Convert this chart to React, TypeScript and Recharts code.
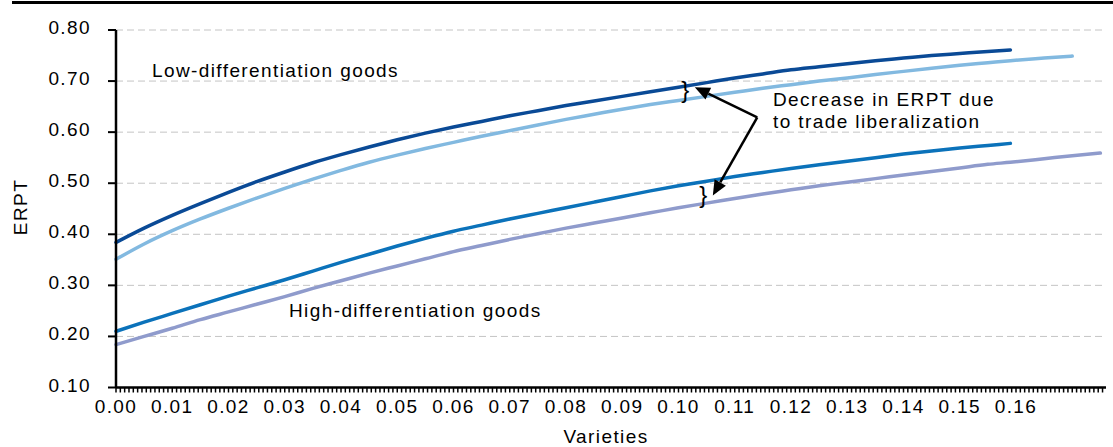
import React from 'react';
import {
  LineChart,
  Line,
  XAxis,
  YAxis,
  CartesianGrid,
  ReferenceLine,
  ReferenceDot,
} from 'recharts';

const xs = [
  0, 0.005, 0.01, 0.015, 0.02, 0.025, 0.03, 0.035, 0.04, 0.045, 0.05, 0.055,
  0.06, 0.065, 0.07, 0.075, 0.08, 0.085, 0.09, 0.095, 0.1, 0.105, 0.11, 0.115,
  0.12, 0.125, 0.13, 0.135, 0.14, 0.145, 0.15, 0.155, 0.159, 0.165, 0.17, 0.175,
];

const lowPre = [
  0.384, 0.412, 0.437, 0.46, 0.482, 0.503, 0.522, 0.54, 0.556, 0.571, 0.585, 0.598,
  0.61, 0.621, 0.632, 0.642, 0.652, 0.661, 0.67, 0.679, 0.688, 0.697, 0.706, 0.714,
  0.722, 0.728, 0.734, 0.74, 0.745, 0.75, 0.754, 0.758, 0.761, null, null, null,
];
const lowPost = [
  0.351, 0.381, 0.407, 0.43, 0.451, 0.471, 0.49, 0.508, 0.525, 0.541, 0.555, 0.568,
  0.58, 0.592, 0.603, 0.614, 0.625, 0.635, 0.645, 0.654, 0.662, 0.67, 0.678, 0.686,
  0.693, 0.7, 0.706, 0.713, 0.719, 0.725, 0.731, 0.736, 0.74, 0.745, 0.749, null,
];
const highPre = [
  0.21, 0.228, 0.245, 0.262, 0.279, 0.295, 0.311, 0.328, 0.345, 0.361, 0.377, 0.392,
  0.406, 0.418, 0.43, 0.441, 0.452, 0.463, 0.474, 0.485, 0.495, 0.504, 0.513, 0.521,
  0.529, 0.536, 0.543, 0.55, 0.557, 0.563, 0.569, 0.574, 0.578, null, null, null,
];
const highPost = [
  0.184, 0.2, 0.216, 0.233, 0.248, 0.263, 0.278, 0.294, 0.309, 0.324, 0.338, 0.352,
  0.366, 0.378, 0.39, 0.401, 0.412, 0.422, 0.432, 0.442, 0.452, 0.461, 0.47, 0.479,
  0.487, 0.495, 0.502, 0.509, 0.516, 0.523, 0.53, 0.537, 0.541, 0.548, 0.554, 0.559,
];

const yTicks = [0.1, 0.2, 0.3, 0.4, 0.5, 0.6, 0.7, 0.8];
// 13 small tick marks per 0.01, labels on every 13th up to 0.16
const xTicks = Array.from({ length: 229 }, (_, k) => (k * 0.01) / 13);

const data = xs.map((x, i) => ({
  x,
  lowPre: lowPre[i],
  lowPost: lowPost[i],
  highPre: highPre[i],
  highPost: highPost[i],
}));

const FONT = '"Liberation Sans", Arial, sans-serif';
const txt = { fontFamily: FONT, fontSize: 19, letterSpacing: 1.4, fill: '#000' };

const XTick = (props: any) => {
  const { x, y, payload } = props;
  const v = payload.value;
  const k = Math.round(v * 1300);
  if (k % 13 !== 0 || v > 0.1605) return <g />;
  return (
    <text x={x} y={y} dy={18} textAnchor="middle" style={txt}>
      {v.toFixed(2)}
    </text>
  );
};

const YTick = (props: any) => {
  const { x, y, payload } = props;
  return (
    <text x={x} y={y} dy={4} textAnchor="end" style={txt}>
      {payload.value.toFixed(2)}
    </text>
  );
};

const Arrow = (props: any) => {
  const { x1, y1, x2, y2 } = props;
  const dx = x2 - x1;
  const dy = y2 - y1;
  const len = Math.hypot(dx, dy) || 1;
  const ux = dx / len;
  const uy = dy / len;
  const hl = 15;
  const hw = 6.5;
  const bx = x2 - ux * hl;
  const by = y2 - uy * hl;
  return (
    <g>
      <line x1={x1} y1={y1} x2={bx} y2={by} stroke="#000" strokeWidth={2.5} />
      <polygon
        points={`${x2},${y2} ${bx - uy * hw},${by + ux * hw} ${bx + uy * hw},${by - ux * hw}`}
        fill="#000"
      />
    </g>
  );
};

const Brace = (props: any) => {
  const { cx, cy } = props;
  return (
    <text x={cx} y={cy} dy="0.26em" textAnchor="middle" style={{ fontFamily: FONT, fontSize: 24, fill: '#000' }}>
      {'}'}
    </text>
  );
};

export default function App() {
  return (
    <div style={{ position: 'absolute', left: 0, top: 0, width: 1113, height: 447, background: '#fff' }}>
      <div style={{ position: 'absolute', left: 12, top: 1, width: 1101, height: 3, background: '#000' }} />
      <LineChart width={1113} height={447} data={data} margin={{ top: 30, right: 7, bottom: 0, left: 0 }}>
        <CartesianGrid vertical={false} stroke="#c4c4c4" strokeDasharray="7 4" />
        <XAxis
          type="number"
          dataKey="x"
          domain={[0, 0.176]}
          ticks={xTicks}
          interval={0}
          height={59.5}
          tick={<XTick />}
          tickSize={5}
          tickMargin={2}
          axisLine={{ stroke: '#000', strokeWidth: 2.5 }}
          tickLine={{ stroke: '#000', strokeWidth: 1.5 }}
        />
        <YAxis
          type="number"
          domain={[0.1, 0.8]}
          ticks={yTicks}
          width={116}
          interval={0}
          tick={<YTick />}
          tickSize={8}
          tickMargin={17}
          axisLine={{ stroke: '#000', strokeWidth: 2.5 }}
          tickLine={{ stroke: '#000', strokeWidth: 2 }}
        />
        <Line type="monotone" dataKey="lowPost" stroke="#82b9e0" strokeWidth={3.5} dot={false} strokeLinecap="round" isAnimationActive={false} />
        <Line type="monotone" dataKey="lowPre" stroke="#0a4a96" strokeWidth={3.5} dot={false} strokeLinecap="round" isAnimationActive={false} />
        <Line type="monotone" dataKey="highPost" stroke="#8f9bcc" strokeWidth={3.5} dot={false} strokeLinecap="round" isAnimationActive={false} />
        <Line type="monotone" dataKey="highPre" stroke="#0b72ba" strokeWidth={3.5} dot={false} strokeLinecap="round" isAnimationActive={false} />
        <ReferenceLine segment={[{ x: 0.114, y: 0.629 }, { x: 0.1029, y: 0.688 }]} shape={<Arrow />} />
        <ReferenceLine segment={[{ x: 0.114, y: 0.629 }, { x: 0.1061, y: 0.476 }]} shape={<Arrow />} />
        <ReferenceDot x={0.1012} y={0.6787} r={1} shape={<Brace />} />
        <ReferenceDot x={0.1044} y={0.4742} r={1} shape={<Brace />} />
      </LineChart>
      <svg width={1113} height={447} style={{ position: 'absolute', left: 0, top: 0, pointerEvents: 'none' }}>
        <text x={152} y={76.5} style={txt}>Low-differentiation goods</text>
        <text x={289} y={316.5} style={txt}>High-differentiation goods</text>
        <text x={773} y={106} style={txt}>Decrease in ERPT due</text>
        <text x={773} y={127.5} style={txt}>to trade liberalization</text>
        <text x={20} y={207} dy="0.35em" textAnchor="middle" transform="rotate(-90 20 207)" style={txt}>ERPT</text>
        <text x={606} y={443} textAnchor="middle" style={txt}>Varieties</text>
      </svg>
    </div>
  );
}
